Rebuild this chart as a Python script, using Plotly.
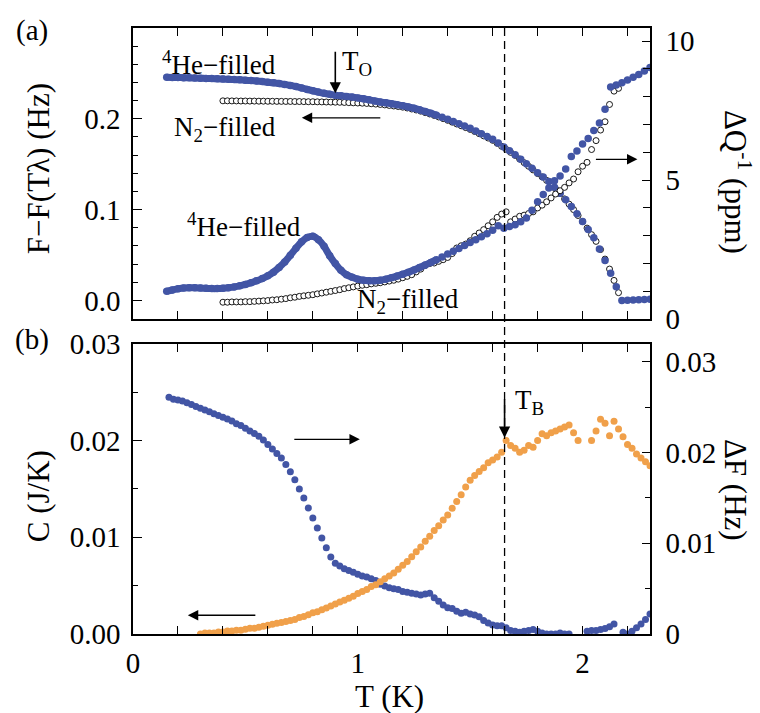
import plotly.graph_objects as go

# ---------------- panel (a): torsional oscillator ----------------
# 4He-filled cell, shared temperature grid (K)
he_T = [0.150, 0.175, 0.200, 0.225, 0.250, 0.275, 0.300, 0.325, 0.350, 0.375,
        0.400, 0.425, 0.450, 0.475, 0.500, 0.525, 0.550, 0.575, 0.600, 0.625,
        0.650, 0.675, 0.700, 0.725, 0.750, 0.775, 0.800, 0.825, 0.850, 0.875,
        0.900, 0.925, 0.950, 0.975, 1.000, 1.025, 1.050, 1.075, 1.100, 1.125,
        1.150, 1.175, 1.200, 1.225, 1.250, 1.275, 1.300, 1.325, 1.350, 1.375,
        1.400, 1.425, 1.450, 1.475, 1.500, 1.525, 1.550, 1.575, 1.600, 1.625,
        1.650, 1.675, 1.700, 1.725, 1.750, 1.775, 1.800, 1.825, 1.850, 1.875,
        1.900, 1.925, 1.950, 1.975, 2.000, 2.025, 2.050, 2.075, 2.100, 2.125,
        2.150, 2.175, 2.200, 2.225, 2.250, 2.275, 2.300]
# F - F(T_lambda) in Hz
he_F = [0.2457, 0.2456, 0.2455, 0.2453, 0.2451, 0.2449, 0.2447, 0.2445, 0.2443, 0.2441,
        0.2438, 0.2435, 0.2432, 0.2429, 0.2425, 0.2421, 0.2416, 0.2410, 0.2403, 0.2396,
        0.2388, 0.2379, 0.2368, 0.2355, 0.2340, 0.2324, 0.2309, 0.2294, 0.2281, 0.2270,
        0.2260, 0.2253, 0.2246, 0.2239, 0.2230, 0.2220, 0.2209, 0.2197, 0.2185, 0.2176,
        0.2166, 0.2156, 0.2145, 0.2131, 0.2116, 0.2099, 0.2080, 0.2060, 0.2040, 0.2018,
        0.1995, 0.1970, 0.1945, 0.1920, 0.1895, 0.1866, 0.1836, 0.1806, 0.1775, 0.1733,
        0.1690, 0.1648, 0.1605, 0.1555, 0.1505, 0.1455, 0.1405, 0.1358, 0.1310, 0.1245,
        0.1180, 0.1108, 0.1035, 0.0953, 0.0870, 0.0780, 0.0690, 0.0565, 0.0440, 0.0300,
        0.0150, 0.0000, 0.0002, 0.0004, 0.0006, 0.0009, 0.0012]
# Delta Q^-1 in ppm
he_Q = [1.00, 1.05, 1.09, 1.12, 1.13, 1.13, 1.12, 1.11, 1.10, 1.10,
        1.11, 1.13, 1.16, 1.20, 1.25, 1.31, 1.38, 1.46, 1.56, 1.69,
        1.86, 2.06, 2.30, 2.55, 2.78, 2.94, 2.98, 2.86, 2.62, 2.28,
        2.00, 1.76, 1.60, 1.51, 1.44, 1.40, 1.38, 1.38, 1.40, 1.44,
        1.49, 1.55, 1.62, 1.69, 1.77, 1.86, 1.95, 2.04, 2.14, 2.24,
        2.34, 2.44, 2.54, 2.65, 2.76, 2.86, 2.96, 3.07, 3.20, 3.36,
        3.27, 3.33, 3.40, 3.50, 3.64, 3.92, 4.22, 4.48, 4.72, 4.98,
        5.15, 5.40, 5.85, 6.05, 6.30, 6.50, 6.78, 7.05, 7.55, 8.35,
        8.42, 8.50, 8.60, 8.70, 8.80, 8.92, 9.05]

# N2-filled cell
n2_T = [0.40, 0.42, 0.44, 0.46, 0.48, 0.50, 0.52, 0.54, 0.56, 0.58,
        0.60, 0.62, 0.64, 0.66, 0.68, 0.70, 0.72, 0.74, 0.76, 0.78,
        0.80, 0.82, 0.84, 0.86, 0.88, 0.90, 0.92, 0.94, 0.96, 0.98,
        1.00, 1.02, 1.04, 1.06, 1.08, 1.10, 1.12, 1.14, 1.16, 1.18,
        1.20, 1.22, 1.24, 1.26, 1.28, 1.30, 1.32, 1.34, 1.36, 1.38,
        1.40, 1.42, 1.44, 1.46, 1.48, 1.50, 1.52, 1.54, 1.56, 1.58,
        1.60, 1.62, 1.64, 1.66, 1.68, 1.70, 1.72, 1.74, 1.76, 1.78,
        1.80, 1.82, 1.84, 1.86, 1.88, 1.90, 1.92, 1.94, 1.96, 1.98,
        2.00, 2.02, 2.04, 2.06, 2.08, 2.10, 2.12, 2.14, 2.16]
n2_F = [0.2198, 0.2198, 0.2197, 0.2197, 0.2196, 0.2196, 0.2195, 0.2195, 0.2194, 0.2194,
        0.2193, 0.2193, 0.2192, 0.2192, 0.2191, 0.2191, 0.2190, 0.2190, 0.2189, 0.2188,
        0.2188, 0.2187, 0.2186, 0.2185, 0.2184, 0.2183, 0.2182, 0.2180, 0.2178, 0.2176,
        0.2174, 0.2172, 0.2169, 0.2166, 0.2162, 0.2158, 0.2153, 0.2147, 0.2141, 0.2135,
        0.2128, 0.2119, 0.2108, 0.2097, 0.2084, 0.2068, 0.2053, 0.2037, 0.2020, 0.2002,
        0.1983, 0.1963, 0.1943, 0.1923, 0.1903, 0.1883, 0.1860, 0.1836, 0.1812, 0.1788,
        0.1763, 0.1730, 0.1697, 0.1664, 0.1630, 0.1597, 0.1557, 0.1517, 0.1477, 0.1437,
        0.1397, 0.1360, 0.1322, 0.1280, 0.1228, 0.1176, 0.1118, 0.1060, 0.1000, 0.0935,
        0.0868, 0.0796, 0.0724, 0.0650, 0.0560, 0.0455, 0.0345, 0.0220, 0.0085]
n2_Q = [0.61, 0.61, 0.62, 0.62, 0.62, 0.63, 0.63, 0.64, 0.65, 0.66,
        0.67, 0.69, 0.70, 0.72, 0.74, 0.77, 0.79, 0.82, 0.84, 0.86,
        0.88, 0.91, 0.94, 0.97, 1.00, 1.03, 1.06, 1.10, 1.13, 1.16,
        1.19, 1.22, 1.24, 1.27, 1.29, 1.31, 1.34, 1.37, 1.40, 1.44,
        1.49, 1.54, 1.60, 1.70, 1.80, 1.93, 2.00, 2.02, 2.08, 2.14,
        2.22, 2.36, 2.56, 2.64, 2.70, 2.82, 2.98, 3.10, 3.22, 3.36,
        3.50, 3.66, 3.78, 3.86, 3.50, 3.60, 3.70, 3.74, 3.80, 3.86,
        4.00, 4.10, 4.22, 4.36, 4.50, 4.62, 4.74, 4.90, 5.04, 5.30,
        5.50, 5.64, 6.10, 6.42, 6.80, 7.10, 7.72, 8.20, 8.30]

# ---------------- panel (b): heat capacity and Delta F ----------------
df_T = [0.16, 0.18, 0.20, 0.22, 0.24, 0.26, 0.28, 0.30, 0.32, 0.34,
        0.36, 0.38, 0.40, 0.42, 0.44, 0.46, 0.48, 0.50, 0.52, 0.54,
        0.56, 0.58, 0.60, 0.62, 0.64, 0.66, 0.68, 0.70, 0.72, 0.74,
        0.76, 0.78, 0.80, 0.82, 0.84, 0.86, 0.88, 0.90, 0.92, 0.94,
        0.96, 0.98, 1.00, 1.02, 1.04, 1.06, 1.08, 1.10, 1.12, 1.14,
        1.16, 1.18, 1.20, 1.22, 1.24, 1.26, 1.28, 1.30, 1.32, 1.34,
        1.36, 1.38, 1.40, 1.42, 1.44, 1.46, 1.48, 1.50, 1.52, 1.54,
        1.56, 1.58, 1.60, 1.62, 1.64, 1.66, 1.68, 1.70, 1.72, 1.74,
        1.76, 1.78, 1.80, 1.82, 1.84, 1.86, 1.88, 1.90, 1.92, 1.94,
        1.96, 1.98, 2.00, 2.02, 2.04, 2.06, 2.08, 2.10, 2.12, 2.14,
        2.16, 2.18, 2.20, 2.22, 2.24, 2.26, 2.28, 2.30]
# Delta F in Hz
df_vals = [0.0261, 0.0259, 0.0258, 0.0257, 0.0255, 0.0253, 0.0251, 0.0249, 0.0247, 0.0245,
           0.0243, 0.0241, 0.0239, 0.0237, 0.0235, 0.0232, 0.0230, 0.0227, 0.0224, 0.0221,
           0.0218, 0.0214, 0.0209, 0.0204, 0.0199, 0.0194, 0.0187, 0.0179, 0.0170, 0.0160,
           0.0150, 0.0139, 0.0128, 0.0117, 0.0106, 0.0095, 0.0085, 0.0078, 0.0075, 0.0072,
           0.0070, 0.0068, 0.0066, 0.0064, 0.0063, 0.0061, 0.0059, 0.0055, 0.0053, 0.0051,
           0.0050, 0.0049, 0.0047, 0.0046, 0.0045, 0.0044, 0.0043, 0.0044, 0.0045, 0.0040,
           0.0036, 0.0032, 0.0029, 0.0028, 0.0025, 0.0023, 0.0024, 0.0022, 0.0021, 0.0019,
           0.0015, 0.0012, 0.0010, 0.0009, 0.0009, 0.0007, 0.0004, 0.0003, 0.0002, 0.0003,
           0.0004, 0.0005, 0.0003, 0.0001, 0.0000, 0.0000, 0.0000, 0.0001, 0.0000, 0.0000,
           None, None, None, 0.0003, 0.0004, 0.0004, 0.0005, 0.0006, 0.0008, 0.0011,
           None, 0.0002, 0.0000, 0.0003, 0.0007, 0.0011, 0.0016, 0.0022]

c_T = [0.30, 0.32, 0.34, 0.36, 0.38, 0.40, 0.42, 0.44, 0.46, 0.48,
       0.50, 0.52, 0.54, 0.56, 0.58, 0.60, 0.62, 0.64, 0.66, 0.68,
       0.70, 0.72, 0.74, 0.76, 0.78, 0.80, 0.82, 0.84, 0.86, 0.88,
       0.90, 0.92, 0.94, 0.96, 0.98, 1.00, 1.02, 1.04, 1.06, 1.08,
       1.10, 1.12, 1.14, 1.16, 1.18, 1.20, 1.22, 1.24, 1.26, 1.28,
       1.30, 1.32, 1.34, 1.36, 1.38, 1.40, 1.42, 1.44, 1.46, 1.48,
       1.50, 1.52, 1.54, 1.56, 1.58, 1.60, 1.62, 1.64, 1.66, 1.68,
       1.70, 1.72, 1.74, 1.76, 1.78, 1.80, 1.82, 1.84, 1.86, 1.88,
       1.90, 1.92, 1.94, 1.96, 1.98, 2.00, 2.02, 2.04, 2.06, 2.08,
       2.10, 2.12, 2.14, 2.16, 2.18, 2.20, 2.22, 2.24, 2.26, 2.28,
       2.30]
# heat capacity C in J/K
c_vals = [0.0000, 0.0001, 0.0001, 0.0001, 0.0002, 0.0002, 0.0003, 0.0003, 0.0004, 0.0004,
          0.0005, 0.0006, 0.0006, 0.0007, 0.0008, 0.0009, 0.0010, 0.0011, 0.0012, 0.0013,
          0.0014, 0.0015, 0.0017, 0.0018, 0.0020, 0.0022, 0.0023, 0.0025, 0.0027, 0.0029,
          0.0031, 0.0033, 0.0035, 0.0037, 0.0039, 0.0042, 0.0044, 0.0046, 0.0049, 0.0051,
          0.0054, 0.0057, 0.0060, 0.0063, 0.0067, 0.0071, 0.0075, 0.0080, 0.0085, 0.0090,
          0.0096, 0.0101, 0.0107, 0.0112, 0.0118, 0.0123, 0.0130, 0.0137, 0.0144, 0.0152,
          0.0159, 0.0164, 0.0168, 0.0172, 0.0177, 0.0180, 0.0183, 0.0188, 0.0200, 0.0195,
          0.0192, 0.0188, 0.0190, 0.0195, 0.0193, 0.0200, 0.0207, 0.0205, 0.0208, 0.0210,
          0.0212, 0.0214, 0.0216, 0.0208, 0.0200, None, None, 0.0200, 0.0210, 0.0222,
          0.0218, 0.0205, 0.0220, 0.0212, 0.0204, 0.0196, 0.0192, 0.0186, 0.0182, 0.0178,
          0.0174]

# characteristic temperatures (K)
T_O = 0.90
T_B = 1.653
# below this temperature the 4He data are dense enough to read as a solid band
T_SOLID = 1.35

BLUE = "#4255a5"
ORANGE = "#f0a04a"
FONT = "Liberation Serif"
TICK_SIZE = 29
TITLE_SIZE = 31
NOTE_SIZE = 27

fig = go.Figure()

# (a) N2-filled: open circles underneath the 4He data
n2_marker = dict(symbol="circle", size=6, color="white", line=dict(color="black", width=0.9))
fig.add_trace(go.Scatter(x=n2_T, y=n2_F, xaxis="x2", yaxis="y", mode="markers",
                         marker=n2_marker, showlegend=False))
fig.add_trace(go.Scatter(x=n2_T, y=n2_Q, xaxis="x2", yaxis="y2", mode="markers",
                         marker=n2_marker, showlegend=False))

# (a) 4He-filled: solid band at low T, individual points throughout
n_solid = sum(1 for t in he_T if t <= T_SOLID)
for yvals, yax in ((he_F, "y"), (he_Q, "y2")):
    fig.add_trace(go.Scatter(x=he_T[:n_solid], y=yvals[:n_solid], xaxis="x2", yaxis=yax,
                             mode="lines", line=dict(color=BLUE, width=7, shape="spline"),
                             showlegend=False))
    fig.add_trace(go.Scatter(x=he_T, y=yvals, xaxis="x2", yaxis=yax, mode="markers",
                             marker=dict(size=7.5, color=BLUE), showlegend=False))

# (b) Delta F (right axis) and heat capacity (left axis, drawn on top)
fig.add_trace(go.Scatter(x=df_T, y=df_vals, xaxis="x", yaxis="y3", mode="markers",
                         marker=dict(size=7, color=BLUE), showlegend=False))
fig.add_trace(go.Scatter(x=c_T, y=c_vals, xaxis="x", yaxis="y4", mode="markers",
                         marker=dict(size=7, color=ORANGE), showlegend=False))

axis_common = dict(showline=True, linecolor="black", linewidth=1.6, ticks="inside",
                   tickcolor="black", tickwidth=1.4, showgrid=False, zeroline=False,
                   tickfont=dict(family=FONT, size=TICK_SIZE, color="black"))

top_dom = [0.5195, 1.0]
bot_dom = [0.0, 0.4788]

fig.update_layout(
    width=760, height=713,
    margin=dict(l=133, r=110, t=20, b=79),
    paper_bgcolor="white", plot_bgcolor="white",
    font=dict(family=FONT, color="black"),
    xaxis=dict(**axis_common, domain=[0, 1], anchor="y3", range=[0, 2.3],
               tickvals=[0, 1, 2], ticktext=["0", "1", "2"], ticklen=8,
               mirror="ticks", ticklabelstandoff=2,
               minor=dict(dtick=0.2, tick0=0, ticks="inside", ticklen=8,
                          tickcolor="black", tickwidth=1.4)),
    xaxis2=dict(**axis_common, domain=[0, 1], anchor="y", range=[0, 2.3],
                tickvals=[0, 1, 2], showticklabels=False, ticklen=8, mirror="ticks",
                minor=dict(dtick=0.2, tick0=0, ticks="inside", ticklen=8,
                           tickcolor="black", tickwidth=1.4)),
    yaxis=dict(**axis_common, domain=top_dom, anchor="x2", range=[-0.0207, 0.3],
               tickvals=[0, 0.1, 0.2], ticktext=["0.0", "0.1", "0.2"], ticklen=9,
               ticklabelstandoff=5,
               minor=dict(dtick=0.02, tick0=0, ticks="inside", ticklen=5,
                          tickcolor="black", tickwidth=1.4)),
    yaxis2=dict(**axis_common, overlaying="y", side="right", anchor="x2",
                range=[0, 10.47], tickvals=[0, 5, 10], ticktext=["0", "5", "10"],
                ticklen=8, ticklabelstandoff=8,
                minor=dict(dtick=1, tick0=0, ticks="inside", ticklen=7,
                           tickcolor="black", tickwidth=1.4)),
    yaxis3=dict(**axis_common, domain=bot_dom, anchor="x", side="right",
                range=[0, 0.032], tickvals=[0, 0.01, 0.02, 0.03],
                ticktext=["0", "0.01", "0.02", "0.03"], ticklen=8, ticklabelstandoff=8,
                minor=dict(dtick=0.005, tick0=0, ticks="inside", ticklen=5,
                           tickcolor="black", tickwidth=1.4)),
    yaxis4=dict(**axis_common, overlaying="y3", side="left", anchor="x",
                range=[0, 0.03], tickvals=[0, 0.01, 0.02, 0.03],
                ticktext=["0.00", "0.01", "0.02", "0.03"], ticklen=9, ticklabelstandoff=5,
                minor=dict(dtick=0.005, tick0=0, ticks="inside", ticklen=5,
                           tickcolor="black", tickwidth=1.4)),
)

# dashed line at T_B through both panels
fig.add_shape(type="line", xref="x", yref="paper", x0=T_B, x1=T_B, y0=0, y1=1,
              line=dict(color="black", width=1.3, dash="8px,5px"))

ann = []


def text(x, y, s, xref="x2", yref="y", size=NOTE_SIZE, angle=0, xanchor="center"):
    ann.append(dict(x=x, y=y, xref=xref, yref=yref, text=s, showarrow=False,
                    xanchor=xanchor, yanchor="middle", textangle=angle,
                    font=dict(family=FONT, size=size, color="black")))


def arrow(x, y, ax, ay, xref="x2", yref="y", head=1.6, width=1.3):
    ann.append(dict(x=x, y=y, xref=xref, yref=yref, ax=ax, ay=ay, text="",
                    showarrow=True, arrowhead=2, arrowsize=head, arrowwidth=width,
                    arrowcolor="black"))


# panel letters
text(-0.1954, 0.9951, "(a)", xref="paper", yref="paper", size=TICK_SIZE)
text(-0.1954, 0.4853, "(b)", xref="paper", yref="paper", size=TICK_SIZE)

# axis titles
text(-0.1838, 0.7687, "F−F(Tλ) (Hz)", xref="paper", yref="paper", size=TITLE_SIZE, angle=-90)
text(1.1683, 0.746, "ΔQ<sup>-1</sup> (ppm)", xref="paper", yref="paper", size=TITLE_SIZE, angle=90)
text(-0.1838, 0.2272, "C (J/K)", xref="paper", yref="paper", size=TITLE_SIZE, angle=-90)
text(1.1644, 0.2378, "ΔF (Hz)", xref="paper", yref="paper", size=TITLE_SIZE, angle=90)
text(0.497, -0.1026, "T (K)", xref="paper", yref="paper", size=TITLE_SIZE)

# panel (a) labels and arrows
text(0.384, 0.262, "<sup>4</sup>He−filled")
text(0.409, 0.189, "N<sub>2</sub>−filled")
text(0.493, 0.0826, "<sup>4</sup>He−filled")
text(1.222, -0.0011, "N<sub>2</sub>−filled")
text(0.92, 0.262, "T<sub>O</sub>", xanchor="left")
arrow(T_O, 0.228, 0, -43, head=1.4, width=1.6)
arrow(0.751, 0.2011, 80, 0)
arrow(2.244, 0.1554, -43, 0)

# panel (b) labels and arrows
arrow(1.009, 0.02013, -67, 0, xref="x", yref="y4")
arrow(0.244, 0.00194, 69, 0, xref="x", yref="y4")
arrow(T_B, 0.0203, 0, -40, xref="x", yref="y4", head=1.4, width=1.6)
text(1.689, 0.0240, "T<sub>B</sub>", xref="x", yref="y4", xanchor="left")

fig.update_layout(annotations=ann)

fig.write_html("out.html")
